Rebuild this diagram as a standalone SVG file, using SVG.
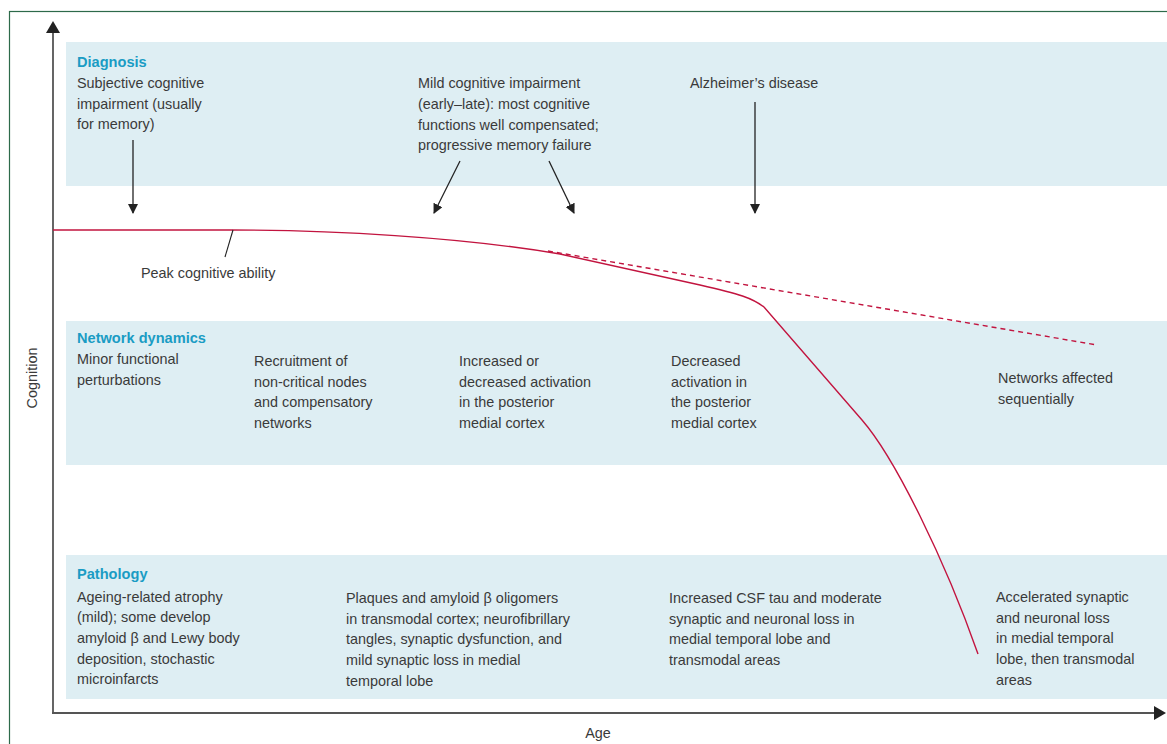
<svg xmlns="http://www.w3.org/2000/svg" width="1167" height="744" viewBox="0 0 1167 744">
<defs>
<style>
.band{fill:#deeef3}
.t{font-family:"Liberation Sans",Arial,sans-serif;font-size:14.4px;fill:#3a3a3a}
.h{font-family:"Liberation Sans",Arial,sans-serif;font-size:14.6px;font-weight:bold;fill:#1a9cc4}
.arr{stroke:#222;stroke-width:1.3;fill:none;marker-end:url(#ah)}
.curve{stroke:#c2143f;stroke-width:1.4;fill:none}
.axis{stroke:#555;stroke-width:1.8;fill:none}
</style>
<marker id="ah" viewBox="0 0 10 10" refX="9" refY="5" markerWidth="10" markerHeight="10" markerUnits="userSpaceOnUse" orient="auto">
<path d="M0,0 L10,5 L0,10 Z" fill="#222"/>
</marker>
</defs>
<rect x="0" y="0" width="1167" height="744" fill="#fff"/>
<rect x="9.5" y="11.5" width="1200" height="800" fill="none" stroke="#2d6a4a" stroke-width="1.2"/>

<g id="band-diagnosis">
<rect class="band" x="66" y="42" width="1101" height="144"/>
<text class="h" x="77" y="67">Diagnosis</text>
</g>
<g id="band-network">
<rect class="band" x="66" y="321" width="1101" height="144"/>
<text class="h" x="77" y="343">Network dynamics</text>
</g>
<g id="band-pathology">
<rect class="band" x="66" y="555" width="1101" height="144"/>
<text class="h" x="77" y="579">Pathology</text>
</g>

<g id="axes">
<line class="axis" x1="53" y1="32" x2="53" y2="714"/>
<path d="M46,33 L53,21 L60,33 Z" fill="#222"/>
<line class="axis" x1="52" y1="713" x2="1154" y2="713"/>
<path d="M1154,706 L1166,713 L1154,720 Z" fill="#222"/>
<text class="t" x="598" y="738" text-anchor="middle">Age</text>
<text class="t" transform="translate(37,378) rotate(-90)" text-anchor="middle">Cognition</text>
</g>

<g id="curve">
<path class="curve" d="M53,230 L230,230 C330,230 460,237 560,254 L700,285 C740,294 752,298 764,307 L862,420 C895,458 945,560 978,654"/>
<path class="curve" d="M548,251 L1097,345" stroke-dasharray="5,4"/>
</g>

<g id="node-sci">
<text class="t" x="77" y="88">Subjective cognitive</text>
<text class="t" x="77" y="109">impairment (usually</text>
<text class="t" x="77" y="129">for memory)</text>
</g>
<g id="node-mci">
<text class="t" x="418" y="88">Mild cognitive impairment</text>
<text class="t" x="418" y="109">(early–late): most cognitive</text>
<text class="t" x="418" y="130">functions well compensated;</text>
<text class="t" x="418" y="150">progressive memory failure</text>
</g>
<g id="node-ad">
<text class="t" x="690" y="88">Alzheimer’s disease</text>
</g>
<g id="node-peak">
<text class="t" x="141" y="278">Peak cognitive ability</text>
</g>

<g id="node-net1">
<text class="t" x="77" y="364">Minor functional</text>
<text class="t" x="77" y="385">perturbations</text>
</g>
<g id="node-net2">
<text class="t" x="254" y="366">Recruitment of</text>
<text class="t" x="254" y="387">non-critical nodes</text>
<text class="t" x="254" y="407">and compensatory</text>
<text class="t" x="254" y="428">networks</text>
</g>
<g id="node-net3">
<text class="t" x="459" y="366">Increased or</text>
<text class="t" x="459" y="387">decreased activation</text>
<text class="t" x="459" y="407">in the posterior</text>
<text class="t" x="459" y="428">medial cortex</text>
</g>
<g id="node-net4">
<text class="t" x="671" y="366">Decreased</text>
<text class="t" x="671" y="387">activation in</text>
<text class="t" x="671" y="407">the posterior</text>
<text class="t" x="671" y="428">medial cortex</text>
</g>
<g id="node-net5">
<text class="t" x="998" y="383">Networks affected</text>
<text class="t" x="998" y="404">sequentially</text>
</g>

<g id="node-path1">
<text class="t" x="77" y="602">Ageing-related atrophy</text>
<text class="t" x="77" y="622">(mild); some develop</text>
<text class="t" x="77" y="643">amyloid β and Lewy body</text>
<text class="t" x="77" y="664">deposition, stochastic</text>
<text class="t" x="77" y="684">microinfarcts</text>
</g>
<g id="node-path2">
<text class="t" x="346" y="603">Plaques and amyloid β oligomers</text>
<text class="t" x="346" y="624">in transmodal cortex; neurofibrillary</text>
<text class="t" x="346" y="644">tangles, synaptic dysfunction, and</text>
<text class="t" x="346" y="665">mild synaptic loss in medial</text>
<text class="t" x="346" y="686">temporal lobe</text>
</g>
<g id="node-path3">
<text class="t" x="669" y="603">Increased CSF tau and moderate</text>
<text class="t" x="669" y="624">synaptic and neuronal loss in</text>
<text class="t" x="669" y="644">medial temporal lobe and</text>
<text class="t" x="669" y="665">transmodal areas</text>
</g>
<g id="node-path4">
<text class="t" x="996" y="602">Accelerated synaptic</text>
<text class="t" x="996" y="623">and neuronal loss</text>
<text class="t" x="996" y="643">in medial temporal</text>
<text class="t" x="996" y="664">lobe, then transmodal</text>
<text class="t" x="996" y="685">areas</text>
</g>

<g id="connectors">
<line class="arr" x1="133" y1="140" x2="133" y2="213"/>
<line class="arr" x1="460" y1="161" x2="434" y2="213"/>
<line class="arr" x1="549" y1="161" x2="574" y2="213"/>
<line class="arr" x1="755" y1="102" x2="755" y2="213"/>
<line x1="233" y1="230" x2="225" y2="257" stroke="#222" stroke-width="1.1"/>
</g>
</svg>
